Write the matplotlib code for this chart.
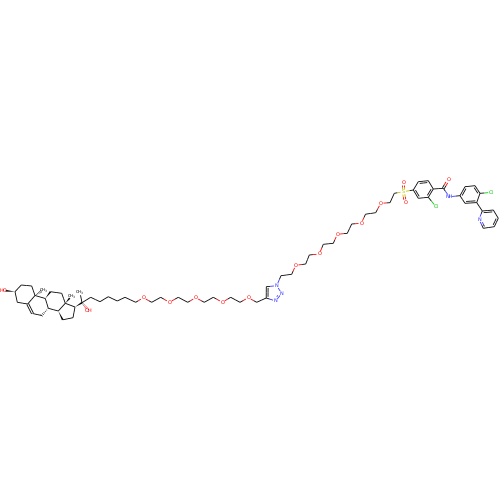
import matplotlib
matplotlib.use("Agg")
import matplotlib.pyplot as plt
import numpy as np

plt.rcParams["text.hinting"] = "none"
plt.rcParams["text.hinting_factor"] = 1

# atoms: pixel position, label ("" for plain carbon)
atom_x = [3, 15, 21.3, 31.7, 35, 17.3, 27.7, 32.5, 41.7, 48.3,
          45.3, 50.5, 61.7, 65.3, 58.3, 62.7, 73, 75, 82, 43.3,
          71.5, 80, 88.3, 90.7, 100, 108.3, 117.3, 125, 135.7, 143.3,
          151.7, 160.7, 169.3, 178.3, 187.7, 195.7, 204.3, 213.3, 222.3, 230.7,
          240, 248.3, 256.7, 266.2, 266.3, 276.7, 281.7, 275.7, 281, 291.7,
          295.7, 305.7, 309.3, 319.3, 323.3, 333.3, 337.3, 347.3, 351.7, 361.3,
          365.5, 375.7, 380.7, 390, 394.3, 403.3, 403.3, 405.3, 413.3, 418.3,
          428.3, 433.3, 428.3, 418.3, 443.3, 448.3, 449.3, 460, 465, 475,
          480, 476.7, 465, 491, 436, 482.3, 493.3, 498.3, 494.3, 483.3, 479]
atom_y = [290.4, 291.7, 285, 286, 295.5, 302.3, 304, 313.5, 315.5, 308.3,
          298.5, 291.7, 293.3, 303.3, 311, 319.8, 317.7, 307, 302.7, 289.8,
          296, 292.5, 310.3, 297.3, 301.7, 296.7, 301, 297.3, 302.3, 297.7,
          302.3, 297.3, 302.3, 297.3, 302.3, 297.7, 302.3, 297.3, 302.3, 297.3,
          302.3, 297.7, 302.3, 298, 286.7, 285.7, 293.3, 301, 275.7, 274.3,
          265.3, 264, 255, 254, 244.3, 243.3, 234.3, 233.3, 224, 223.3,
          214.2, 212.7, 203.3, 202.7, 193.3, 191.7, 182.3, 202.3, 190, 181.7,
          180.7, 189, 197.3, 198.3, 188.3, 180, 196.7, 195.7, 186.7, 185.7,
          193.3, 202.6, 203.3, 192.5, 206.7, 211, 210, 218.3, 226.7, 228.3, 219.3]
atom_label = {0: "HO", 19: "CH$_3$", 20: "CH$_3$", 21: "CH$_3$", 22: "OH", 29: "O", 32: "O", 35: "O",
              38: "O", 41: "O", 45: "N", 46: "N", 47: "N", 50: "O", 53: "O", 56: "O",
              59: "O", 62: "O", 65: "S", 66: "O", 67: "O", 75: "O", 76: "NH", 83: "Cl",
              84: "Cl", 90: "N"}
atom_color = {"O": "#ff0000", "H": "#ff0000", "N": "#3333ff", "S": "#c4c400", "C": "#00cc00"}

single_bonds = [(1, 2), (2, 3), (3, 4), (1, 5), (5, 6), (7, 8), (9, 10), (4, 10), (4, 6),
                (11, 12), (12, 13), (13, 14), (9, 14), (15, 16), (16, 17), (13, 17),
                (18, 23), (23, 24), (24, 25), (25, 26), (26, 27), (27, 28), (28, 29), (29, 30), (30, 31), (31, 32),
                (32, 33), (33, 34), (34, 35), (35, 36), (36, 37), (37, 38), (38, 39), (39, 40), (40, 41), (41, 42),
                (42, 43), (44, 45), (45, 46), (47, 43), (45, 48), (48, 49), (49, 50), (50, 51), (51, 52), (52, 53),
                (53, 54), (54, 55), (55, 56), (56, 57), (57, 58), (58, 59), (59, 60), (60, 61), (61, 62), (62, 63),
                (63, 64), (64, 65), (65, 68), (68, 69), (70, 71), (72, 73), (71, 74), (74, 76), (76, 77), (78, 79),
                (80, 81), (80, 83), (72, 84), (81, 85), (86, 87), (88, 89), (90, 85), (82, 77), (18, 21)]
ring_a = [68, 69, 70, 71, 72, 73]
ring_b = [77, 78, 79, 80, 81, 82]
ring_py = [85, 86, 87, 88, 89, 90]
ring_t = [43, 44, 45, 46, 47]
ring_double = [(69, 70, ring_a), (71, 72, ring_a), (73, 68, ring_a),
               (77, 78, ring_b), (79, 80, ring_b), (81, 82, ring_b),
               (85, 86, ring_py), (87, 88, ring_py), (89, 90, ring_py),
               (43, 44, ring_t), (46, 47, ring_t)]
plain_double = [(65, 66), (65, 67), (74, 75), (6, 7)]
wedge_bonds = [(1, 0), (10, 11), (13, 20), (14, 15), (17, 18)]
hash_bonds = [(4, 19), (9, 8), (18, 22)]

fig = plt.figure(figsize=(5, 5), dpi=100)
ax = fig.add_axes([0, 0, 1, 1])
ax.set_xlim(0, 500)
ax.set_ylim(500, 0)
ax.axis("off")


def col(i):
    lab = atom_label.get(i, "")
    if lab == "" or lab.startswith("CH"):
        return "#000000"
    if lab == "Cl":
        return atom_color["C"]
    return atom_color[lab[0]]


def ends(i, j):
    # pull the line back from labelled atoms
    a = np.array([atom_x[i], atom_y[i]], dtype=float)
    b = np.array([atom_x[j], atom_y[j]], dtype=float)
    u = (b - a) / np.hypot(*(b - a))
    if i in atom_label:
        a = a + u * 2.8
    if j in atom_label:
        b = b - u * 2.8
    return a, b


def half_line(a, b, ci, cj):
    m = (a + b) / 2
    ax.plot([a[0], m[0]], [a[1], m[1]], color=ci, lw=0.6, solid_capstyle="butt")
    ax.plot([m[0], b[0]], [m[1], b[1]], color=cj, lw=0.6, solid_capstyle="butt")


for i, j in single_bonds:
    a, b = ends(i, j)
    half_line(a, b, col(i), col(j))

for i, j in plain_double:
    a, b = ends(i, j)
    u = (b - a) / np.hypot(*(b - a))
    n = np.array([-u[1], u[0]]) * 1.0
    half_line(a + n, b + n, col(i), col(j))
    half_line(a - n, b - n, col(i), col(j))

for i, j, ring in ring_double:
    a, b = ends(i, j)
    half_line(a, b, col(i), col(j))
    c = np.array([np.mean([atom_x[k] for k in ring]), np.mean([atom_y[k] for k in ring])])
    u = (b - a) / np.hypot(*(b - a))
    n = np.array([-u[1], u[0]])
    if np.dot(c - (a + b) / 2, n) < 0:
        n = -n
    half_line(a + n * 1.8 + u * 1.2, b + n * 1.8 - u * 1.2, col(i), col(j))

for i, j in wedge_bonds:
    a, b = ends(i, j)
    u = (b - a) / np.hypot(*(b - a))
    n = np.array([-u[1], u[0]]) * 0.9
    ax.fill([a[0], b[0] + n[0], b[0] - n[0]], [a[1], b[1] + n[1], b[1] - n[1]], color="#000000", lw=0)

for i, j in hash_bonds:
    a, b = ends(i, j)
    u = (b - a) / np.hypot(*(b - a))
    n = np.array([-u[1], u[0]])
    for t in np.linspace(0.05, 1, 6):
        p = a + (b - a) * t
        w = 1.2 * t
        c = col(i) if t < 0.5 else col(j)
        ax.plot([p[0] - n[0] * w, p[0] + n[0] * w], [p[1] - n[1] * w, p[1] + n[1] * w], color=c, lw=0.35)

for i, lab in atom_label.items():
    size = 3.0 if lab.startswith("CH") else 3.9
    ax.text(atom_x[i], atom_y[i], lab, color=col(i), fontsize=size, ha="center", va="center",
            family="DejaVu Sans")

fig.savefig("out.png", dpi=100, facecolor="white")
